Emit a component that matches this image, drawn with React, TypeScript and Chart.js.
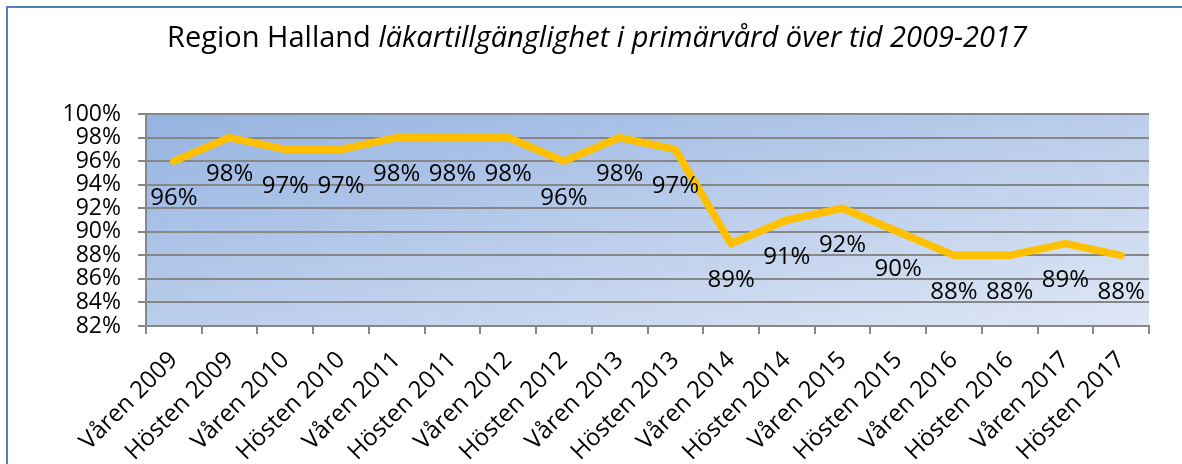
import React, { useEffect, useRef } from 'react';
import { Chart, registerables } from 'chart.js';

Chart.register(...registerables);

const categories = [
  'Våren 2009', 'Hösten 2009', 'Våren 2010', 'Hösten 2010', 'Våren 2011', 'Hösten 2011',
  'Våren 2012', 'Hösten 2012', 'Våren 2013', 'Hösten 2013', 'Våren 2014', 'Hösten 2014',
  'Våren 2015', 'Hösten 2015', 'Våren 2016', 'Hösten 2016', 'Våren 2017', 'Hösten 2017',
];
const values = [96, 98, 97, 97, 98, 98, 98, 96, 98, 97, 89, 91, 92, 90, 88, 88, 89, 88];
const yMin = 82;
const yMax = 100;
const yStep = 2;
const titlePlain = 'Region Halland ';
const titleItalic = 'läkartillgänglighet i primärvård över tid 2009-2017';

const FONT = '"Open Sans", "DejaVu Sans", sans-serif';

const bgPlugin = {
  id: 'plotBg',
  beforeDraw(chart: any) {
    const { ctx, chartArea: a } = chart;
    const w = a.right - a.left;
    const h = a.bottom - a.top;
    const d2 = w * w + h * h;
    const k = (2 * w * h) / d2;
    const g = ctx.createLinearGradient(a.left, a.top, a.left + h * k, a.top + w * k);
    g.addColorStop(0, '#95b3e1');
    g.addColorStop(1, '#dfe7f5');
    ctx.save();
    ctx.fillStyle = g;
    ctx.fillRect(a.left, a.top, w, h);
    ctx.restore();
  },
};

const labelPlugin = {
  id: 'pointLabels',
  afterDatasetsDraw(chart: any) {
    const { ctx } = chart;
    const meta = chart.getDatasetMeta(0);
    ctx.save();
    ctx.font = `24px ${FONT}`;
    ctx.fillStyle = '#000';
    ctx.textAlign = 'center';
    ctx.textBaseline = 'middle';
    meta.data.forEach((pt: any, i: number) => {
      ctx.fillText(values[i] + '%', pt.x, pt.y + 37);
    });
    ctx.restore();
  },
};

const titlePlugin = {
  id: 'mixedTitle',
  afterDraw(chart: any) {
    const { ctx } = chart;
    ctx.save();
    const fPlain = `29px ${FONT}`;
    const fItal = `italic 29px ${FONT}`;
    ctx.font = fPlain;
    const w1 = ctx.measureText(titlePlain).width;
    ctx.font = fItal;
    const w2 = ctx.measureText(titleItalic).width;
    const cx = 597;
    const x0 = cx - (w1 + w2) / 2;
    const y = 47;
    ctx.fillStyle = '#000';
    ctx.textBaseline = 'alphabetic';
    ctx.textAlign = 'left';
    ctx.font = fPlain;
    ctx.fillText(titlePlain, x0, y);
    ctx.font = fItal;
    ctx.fillText(titleItalic, x0 + w1, y);
    ctx.restore();
  },
};

export default function App() {
  const ref = useRef<HTMLCanvasElement | null>(null);

  useEffect(() => {
    if (!ref.current) return;
    const gray = '#878787';
    const chart = new Chart(ref.current, {
      type: 'line',
      data: {
        labels: categories,
        datasets: [
          {
            data: values,
            borderColor: '#FFC000',
            backgroundColor: '#FFC000',
            borderWidth: 7.5,
            pointRadius: 0,
            pointHoverRadius: 0,
            tension: 0,
            borderCapStyle: 'round',
            borderJoinStyle: 'round',
            fill: false,
          },
        ],
      },
      options: {
        animation: false,
        responsive: false,
        devicePixelRatio: 1,
        events: [],
        layout: { padding: { top: 114, right: 33, left: 0, bottom: 0 } },
        plugins: {
          legend: { display: false },
          title: { display: false },
          tooltip: { enabled: false },
        },
        scales: {
          x: {
            type: 'category',
            offset: true,
            grid: {
              offset: true,
              drawOnChartArea: false,
              drawTicks: true,
              tickLength: 8,
              color: gray,
              lineWidth: 2,
            },
            border: { color: gray, width: 2 },
            ticks: {
              autoSkip: false,
              minRotation: 45,
              maxRotation: 45,
              padding: 12,
              color: '#000',
              font: { family: FONT, size: 24 },
            },
            afterFit: (s: any) => {
              s.height = 138;
            },
          },
          y: {
            min: yMin,
            max: yMax,
            grid: {
              color: gray,
              lineWidth: 2,
              tickLength: 8,
            },
            border: { color: gray, width: 2 },
            ticks: {
              autoSkip: false,
              stepSize: yStep,
              padding: 17,
              color: '#000',
              font: { family: FONT, size: 23 },
              callback: (v: any) => v + '%',
            },
            afterFit: (s: any) => {
              s.width = 146;
            },
          },
        },
      },
      plugins: [bgPlugin, labelPlugin, titlePlugin],
    } as any);
    return () => chart.destroy();
  }, []);

  return (
    <div style={{ position: 'fixed', left: 0, top: 0, width: 1182, height: 464, background: '#fff', overflow: 'hidden' }}>
      <canvas ref={ref} width={1182} height={464} style={{ position: 'absolute', left: 0, top: 0, width: 1182, height: 464 }} />
      <div
        style={{
          position: 'absolute',
          left: 6,
          top: 6,
          right: -10,
          bottom: -10,
          borderLeft: '2.5px solid #4f81bd',
          borderTop: '2.5px solid #4f81bd',
          pointerEvents: 'none',
        }}
      />
    </div>
  );
}
